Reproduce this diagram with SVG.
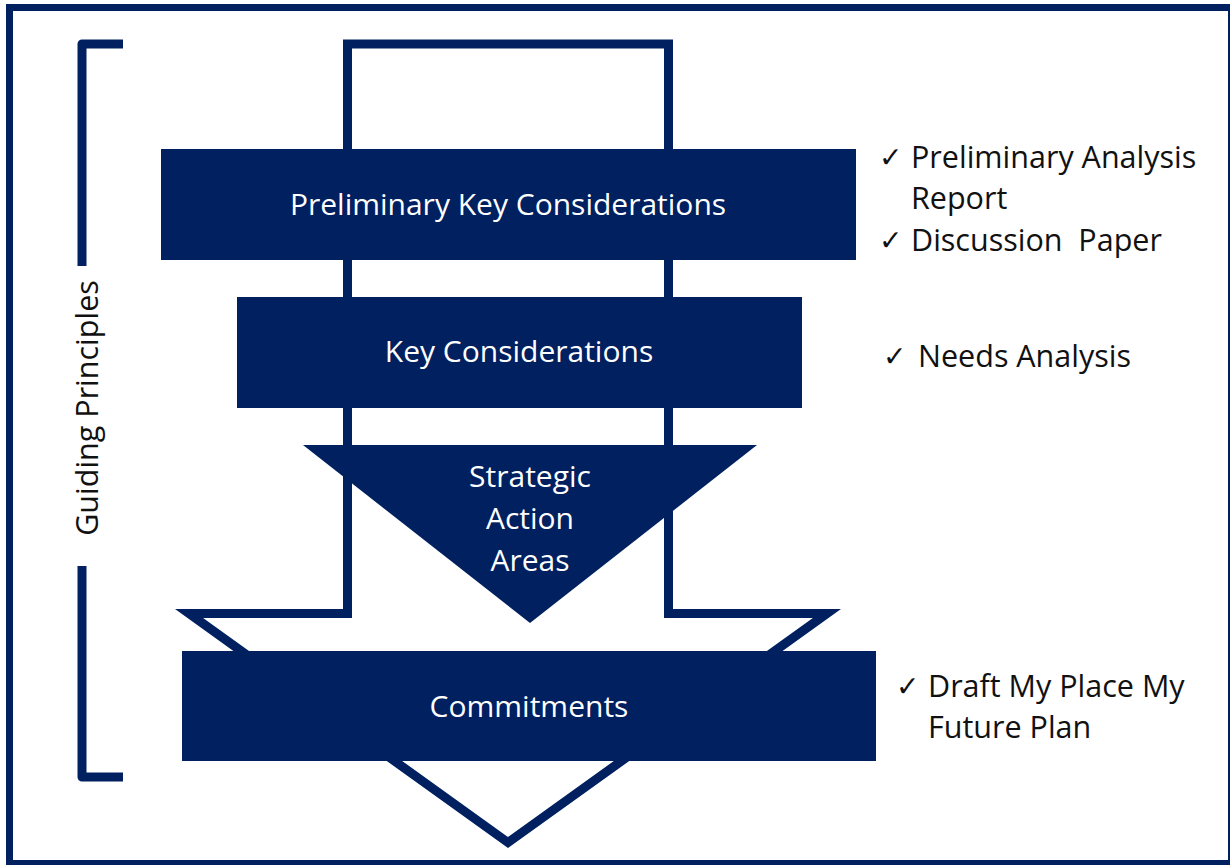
<svg xmlns="http://www.w3.org/2000/svg" width="1230" height="865" viewBox="0 0 1230 865">
<style>
.frame{fill:none;stroke:#002060;stroke-width:7}
.outline{fill:none;stroke:#002060;stroke-width:9;stroke-linejoin:miter;stroke-miterlimit:6}
.bracket{fill:none;stroke:#002060;stroke-width:9;stroke-linejoin:round}
.box{fill:#002060}
.wt{font-family:"Open Sans","Liberation Sans",sans-serif;font-size:30px;fill:#ffffff;text-anchor:middle}
.bt{font-family:"Open Sans","Liberation Sans",sans-serif;font-size:30.5px;fill:#111111}
.ck{font-family:"DejaVu Sans",sans-serif;font-size:28px;font-weight:bold;fill:#111111}
</style>
<rect class="frame" x="9.5" y="7.5" width="1222" height="856"/>
<g id="connectors">
<path class="outline" d="M347.5,44 H668.5 V613.5 H827 L508,842.5 L189,613.5 H347.5 Z"/>
<path class="bracket" d="M123,44 H82 V266 M82,566 V777 H123"/>
</g>
<g id="guiding">
<text class="bt" text-anchor="middle" transform="translate(98,408) rotate(-90)">Guiding Principles</text>
</g>
<g id="prelim">
<rect class="box" x="161" y="149" width="695" height="111"/>
<text class="wt" x="508" y="215">Preliminary Key Considerations</text>
</g>
<g id="key">
<rect class="box" x="237" y="297" width="565" height="111"/>
<text class="wt" x="519" y="362">Key Considerations</text>
</g>
<g id="strategic">
<polygon class="box" points="303,445 757,445 530,623"/>
<text class="wt" x="530" y="487">Strategic</text>
<text class="wt" x="530" y="529">Action</text>
<text class="wt" x="530" y="571">Areas</text>
</g>
<g id="commitments">
<rect class="box" x="182" y="651" width="694" height="110"/>
<text class="wt" x="529" y="717">Commitments</text>
</g>
<g id="notes1">
<text class="ck" x="879" y="167">✓</text>
<text class="bt" x="911" y="168">Preliminary Analysis</text>
<text class="bt" x="911" y="209">Report</text>
<text class="ck" x="879" y="250">✓</text>
<text class="bt" x="911" y="251" xml:space="preserve">Discussion  Paper</text>
</g>
<g id="notes2">
<text class="ck" x="883" y="366">✓</text>
<text class="bt" x="918" y="367">Needs Analysis</text>
</g>
<g id="notes3">
<text class="ck" x="896" y="696">✓</text>
<text class="bt" x="928" y="697">Draft My Place My</text>
<text class="bt" x="928" y="738">Future Plan</text>
</g>
</svg>
